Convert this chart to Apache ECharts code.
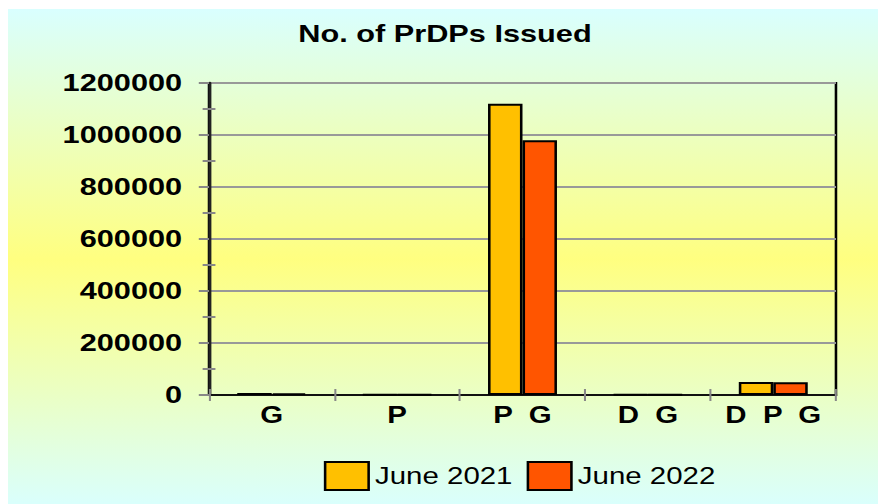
<!DOCTYPE html>
<html>
<head>
<meta charset="utf-8">
<script src="https://cdn.jsdelivr.net/npm/echarts@6/dist/echarts.min.js"></script>
<style>
    html, body { margin: 0; padding: 0; background: #fff; overflow: hidden; }
    /* the reference is stretched sideways, so the chart is drawn narrow and scaled */
    #chart { width: 686px; height: 504px; transform: scaleX(1.28); transform-origin: 0 0; }
</style>
</head>
<body>
<div id="chart"></div>
<script>
// 数据
let categories = ['G', 'P', 'P  G', 'D  G', 'D  P  G'];
let june2021 = [8000, 1000, 1120000, 1000, 50000];
let june2022 = [6000, 1000, 980000, 1000, 49000];
let yMin = 0;
let yMax = 1200000;
let yStep = 200000;

let font = "'Liberation Sans', Arial, sans-serif";

let mychart = echarts.init(document.getElementById('chart'), null, { renderer: 'svg' });

let option = {
    animation: false,
    graphic: [{
        type: 'rect',
        z: -10,
        silent: true,
        shape: { x: 6.25, y: 9, width: 686, height: 500 },
        style: {
            fill: new echarts.graphic.LinearGradient(0, 0, 0, 1, [
                { offset: 0, color: '#d9ffff' },
                { offset: 0.5, color: '#ffff80' },
                { offset: 1, color: '#d9ffff' }
            ])
        }
    }],
    title: {
        text: 'No. of PrDPs Issued',
        left: 233,
        top: 22,
        padding: 0,
        textStyle: { fontFamily: font, fontSize: 24, fontWeight: 'bold', color: '#000' }
    },
    legend: {
        data: ['June 2021', 'June 2022'],
        left: 253,
        top: 461,
        padding: 0,
        itemGap: 11,
        itemWidth: 34,
        itemHeight: 28,
        icon: 'rect',
        itemStyle: { borderColor: '#000', borderWidth: 2 },
        textStyle: { fontFamily: font, fontSize: 23, color: '#000' }
    },
    grid: {
        left: 163.3,
        right: 32.9,
        top: 83,
        bottom: 109,
        show: true,
        borderColor: '#000',
        borderWidth: 2,
        backgroundColor: 'transparent'
    },
    xAxis: [{
        type: 'category',
        data: categories,
        axisLine: { lineStyle: { color: '#111', width: 2 } },
        axisTick: { show: true, length: 6, lineStyle: { color: '#888', width: 1.6 } },
        axisLabel: { interval: 0, margin: 9, fontFamily: font, fontSize: 23, fontWeight: 'bold', color: '#000' }
    }, {
        type: 'category',
        data: categories,
        position: 'bottom',
        axisLine: { show: false },
        axisTick: { show: true, inside: true, length: 6, lineStyle: { color: '#888', width: 1.6 } },
        axisLabel: { show: false }
    }],
    yAxis: [{
        type: 'value',
        min: yMin,
        max: yMax,
        interval: yStep,
        axisLine: { show: true, lineStyle: { color: '#222', width: 2.3 } },
        axisTick: { show: true, length: 8, lineStyle: { color: '#888', width: 2 } },
        minorTick: { show: true, splitNumber: 2, length: 5, lineStyle: { color: '#888', width: 2 } },
        splitLine: { show: true, lineStyle: { color: '#999', width: 2 } },
        axisLabel: {
            margin: 21, fontFamily: font, fontSize: 24, fontWeight: 'bold', color: '#000',
            formatter: (v) => String(v)
        }
    }, {
        type: 'value',
        position: 'left',
        min: yMin,
        max: yMax,
        interval: yStep,
        axisLine: { show: false },
        axisTick: { show: false, inside: true },
        minorTick: { show: true, splitNumber: 2, length: 5, lineStyle: { color: '#888', width: 2 } },
        splitLine: { show: false },
        axisLabel: { show: false }
    }],
    series: [{
        name: 'June 2021',
        type: 'bar',
        data: june2021,
        barGap: 0,
        barCategoryGap: '45%',
        itemStyle: { color: '#ffc000', borderColor: '#000', borderWidth: 2 }
    }, {
        name: 'June 2022',
        type: 'bar',
        data: june2022,
        barGap: 0,
        barCategoryGap: '45%',
        itemStyle: { color: '#ff5500', borderColor: '#000', borderWidth: 2 }
    }]
};

mychart.setOption(option);
</script>
</body>
</html>
